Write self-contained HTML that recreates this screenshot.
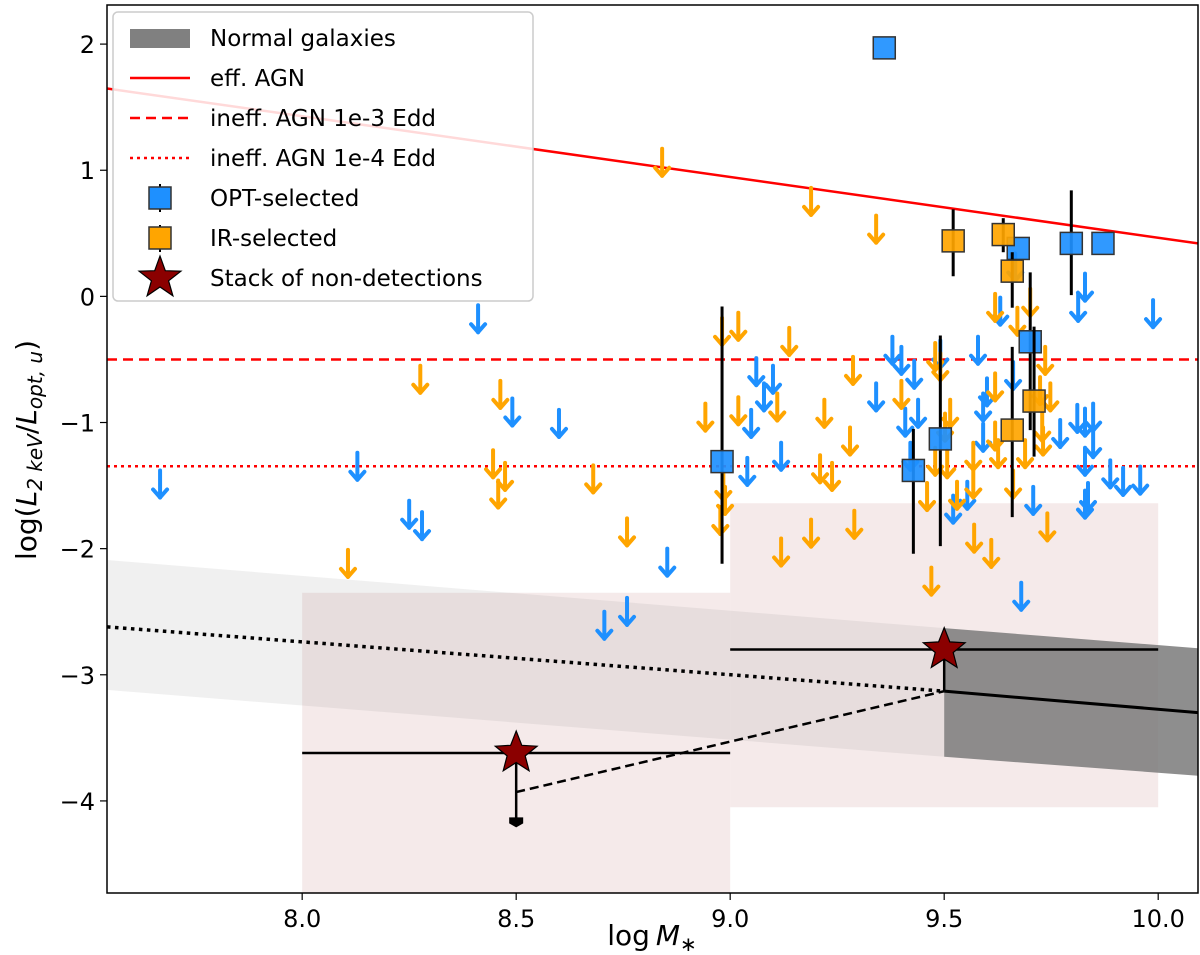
<!DOCTYPE html>
<html><head><meta charset="utf-8"><style>
body{margin:0;background:#fff;}
svg{display:block;font-family:"DejaVu Sans","Liberation Sans",sans-serif;}
</style></head><body>
<svg id="chart" width="1200" height="955" viewBox="0 0 1200 955"></svg>
<script>
// ---- data ----
const blueArrowX=[7.668,8.129,8.25,8.28,8.411,8.491,8.60,8.706,8.759,8.853,9.061,9.10,9.079,9.049,9.119,9.04,9.341,9.379,9.40,9.43,9.409,9.439,9.421,9.491,9.579,9.60,9.591,9.591,9.661,9.708,9.521,9.554,9.68,9.771,9.811,9.829,9.848,9.848,9.829,9.836,9.829,9.888,9.918,9.958,9.829,9.813,9.988,9.631,9.666];
const blueArrowY=[-1.38,-1.24,-1.62,-1.71,-0.07,-0.81,-0.90,-2.50,-2.39,-2.00,-0.49,-0.55,-0.69,-0.90,-1.16,-1.28,-0.69,-0.32,-0.40,-0.51,-0.89,-0.82,-1.16,-0.35,-0.32,-0.65,-0.77,-1.01,-0.52,-1.51,-1.58,-1.47,-2.27,-0.98,-0.86,-0.89,-0.85,-1.06,-1.20,-1.48,-1.54,-1.30,-1.36,-1.35,0.18,0.02,-0.03,-0.01,0.34];
const orangeArrowX=[8.107,8.276,8.463,8.446,8.474,8.458,8.68,8.759,8.841,9.189,9.341,8.981,9.019,9.138,9.287,8.942,9.019,9.11,9.22,9.28,9.40,9.479,9.491,9.619,9.671,9.701,9.736,9.724,9.748,9.619,9.619,9.626,9.689,9.729,9.731,9.514,9.502,9.507,9.479,9.568,9.568,9.661,9.46,9.53,9.21,9.238,9.29,9.189,9.119,9.57,9.61,9.741,9.47,8.984,8.988,8.977];
const orangeArrowY=[-2.01,-0.55,-0.67,-1.22,-1.32,-1.46,-1.34,-1.76,1.17,0.86,0.64,-0.17,-0.13,-0.25,-0.48,-0.85,-0.80,-0.77,-0.82,-1.04,-0.67,-0.37,-0.45,0.02,-0.09,0.06,-0.40,-0.64,-0.69,-0.61,-1.00,-1.14,-1.14,-0.93,-1.04,-0.82,-0.93,-1.22,-1.20,-1.16,-1.38,-1.38,-1.48,-1.47,-1.26,-1.32,-1.70,-1.77,-1.92,-1.81,-1.93,-1.72,-2.15,-1.40,-1.51,-1.67];
const blueSqX=[9.36,9.673,9.797,9.871,9.701,9.491,9.428,8.981];
const blueSqY=[1.97,0.38,0.42,0.42,-0.36,-1.13,-1.38,-1.31];
const blueSqErrUp=[0,0,0.42,0,0.55,0.82,0.33,1.23];
const blueSqErrDn=[0,0,0.41,0,0.70,0.85,0.66,0.81];
const orangeSqX=[9.521,9.638,9.659,9.71,9.659];
const orangeSqY=[0.44,0.49,0.20,-0.83,-1.06];
const orangeSqErrUp=[0.25,0.13,0.15,0.59,0.66];
const orangeSqErrDn=[0.28,0.14,0.29,0.44,0.69];
const stackX=[8.5,9.5];
const stackY=[-3.62,-2.80];
const stackXErr=[0.5,0.5];
const stackYLow=[-4.17,-3.13];
const xTicks=[8.0,8.5,9.0,9.5,10.0];
const xTickLabels=["8.0","8.5","9.0","9.5","10.0"];
const yTicks=[2,1,0,-1,-2,-3,-4];
const yTickLabels=["2","1","0","\u22121","\u22122","\u22123","\u22124"];
const effAGN=[[7.544,1.648],[10.093,0.42]];
const ineff3=-0.5, ineff4=-1.347;
const normDotted=[[7.544,-2.62],[9.5,-3.13]];
const normDashed=[[8.5,-3.93],[9.5,-3.13]];
const normSolid=[[9.5,-3.13],[10.093,-3.30]];
const bandLightTop=[[7.544,-2.09],[9.5,-2.63]];
const bandLightBot=[[7.544,-3.12],[9.5,-3.65]];
const bandDarkTop=[[9.5,-2.63],[10.093,-2.79]];
const bandDarkBot=[[9.5,-3.65],[10.093,-3.80]];
const pinkRects=[[8.0,9.0,-2.35,-4.73],[9.0,10.0,-1.64,-4.05]];

// ---- axes ----
const L=107,R=1198,T=5,B=893;
const X0=7.544,X1=10.093,Y0=-4.73,Y1=2.31;
const sx=v=>L+(v-X0)/(X1-X0)*(R-L);
const sy=v=>B-(v-Y0)/(Y1-Y0)*(B-T);
const svg=document.getElementById('chart');
const NS='http://www.w3.org/2000/svg';
function mk(tag,at,parent){const e=document.createElementNS(NS,tag);for(const k in at)e.setAttribute(k,at[k]);(parent||svg).appendChild(e);return e;}
const clip=mk('clipPath',{id:'pc'});mk('rect',{x:L,y:T,width:R-L,height:B-T},clip);
const g=mk('g',{'clip-path':'url(#pc)'});



pinkRects.forEach((r,i)=>{const e=mk('rect',{x:sx(r[0]),y:sy(r[2]),width:sx(r[1])-sx(r[0]),height:sy(r[3])-sy(r[2]),fill:'#ecd6d6','fill-opacity':0.5},g);

});
function band(top,bot,fill,op,name){const d=`M${sx(top[0][0])},${sy(top[0][1])}L${sx(top[1][0])},${sy(top[1][1])}L${sx(bot[1][0])},${sy(bot[1][1])}L${sx(bot[0][0])},${sy(bot[0][1])}Z`;
const e=mk('path',{d,fill,'fill-opacity':op},g);

}
band(bandLightTop,bandLightBot,'#808080',0.12,'normal-galaxies-band-extrapolated');
band(bandDarkTop,bandDarkBot,'#7a7a7a',0.85,'normal-galaxies-band');
function line(p,st,dash,w,name){const e=mk('line',{x1:sx(p[0][0]),y1:sy(p[0][1]),x2:sx(p[1][0]),y2:sy(p[1][1]),stroke:st,'stroke-width':w,'stroke-dasharray':dash||'none'},g);

}
line(effAGN,'#ff0000',null,2.5,'eff-agn-line');
line([[X0,ineff3],[X1,ineff3]],'#ff0000','10,6',2.5,'ineff-agn-1e-3-line');
line([[X0,ineff4],[X1,ineff4]],'#ff0000','3,4',2.5,'ineff-agn-1e-4-line');
line(normDotted,'#000','3.5,4.5',3.5,'normal-galaxies-dotted-line');
line(normDashed,'#000','9,5',2.5,'normal-galaxies-dashed-line');
line(normSolid,'#000',null,3,'normal-galaxies-solid-line');
function arrow(x,y,col,name){const px=sx(x),py=sy(y);const a=mk('g',{stroke:col,'stroke-width':4,fill:'none','stroke-linecap':'round','stroke-linejoin':'round'},g);


mk('line',{x1:px,y1:py,x2:px,y2:py+27},a);mk('polyline',{points:`${px-7},${py+19} ${px},${py+27} ${px+7},${py+19}`},a);}
blueArrowX.forEach((x,i)=>arrow(x,blueArrowY[i],'#1e90ff','opt-upper-limit'));
orangeArrowX.forEach((x,i)=>arrow(x,orangeArrowY[i],'#ffa500','ir-upper-limit'));
function sq(x,y,eu,ed,col,name){const px=sx(x),py=sy(y);const s=mk('g',{},g);


if(eu||ed)mk('line',{x1:px,y1:sy(y+eu),x2:px,y2:sy(y-ed),stroke:'#000','stroke-width':3},s);
mk('rect',{x:px-11,y:py-11,width:22,height:22,fill:col,'fill-opacity':0.92,stroke:'#333','stroke-width':1.5},s);}
blueSqX.forEach((x,i)=>sq(x,blueSqY[i],blueSqErrUp[i],blueSqErrDn[i],'#1e90ff','opt-selected-detection'));
orangeSqX.forEach((x,i)=>sq(x,orangeSqY[i],orangeSqErrUp[i],orangeSqErrDn[i],'#ffa500','ir-selected-detection'));
function starPts(cx,cy,ro,ri){let p=[];for(let k=0;k<10;k++){const r=k%2?ri:ro;const a=-Math.PI/2+k*Math.PI/5;p.push((cx+r*Math.cos(a)).toFixed(1)+','+(cy+r*Math.sin(a)).toFixed(1));}return p.join(' ');}
stackX.forEach((x,i)=>{const px=sx(x),py=sy(stackY[i]);const s=mk('g',{},g);


mk('line',{x1:sx(x-stackXErr[i]),y1:py,x2:sx(x+stackXErr[i]),y2:py,stroke:'#000','stroke-width':2.5},s);
mk('line',{x1:px,y1:py,x2:px,y2:sy(stackYLow[i]),stroke:'#000','stroke-width':2.5},s);
if(i===0)mk('path',{d:`M${px-7},${sy(stackYLow[i])-5}h14v6l-7,4l-7,-4z`,fill:'#000'},s);
mk('polygon',{points:starPts(px,py,22,9.5),fill:'#8b0000',stroke:'#000','stroke-width':1.2},s);});

const fr=mk('rect',{x:L,y:T,width:R-L,height:B-T,fill:'none',stroke:'#000','stroke-width':1.5});


xTicks.forEach((v,i)=>{mk('line',{x1:sx(v),y1:B,x2:sx(v),y2:B+7,stroke:'#000','stroke-width':1.2});
const t=mk('text',{x:sx(v),y:B+34,'text-anchor':'middle','font-size':24});t.textContent=xTickLabels[i];

});
yTicks.forEach((v,i)=>{mk('line',{x1:L-7,y1:sy(v),x2:L,y2:sy(v),stroke:'#000','stroke-width':1.2});
const t=mk('text',{x:L-12,y:sy(v)+9,'text-anchor':'end','font-size':24});t.textContent=yTickLabels[i];

});
</script>
<svg width="1200" height="955" style="position:absolute;left:0;top:0">
<text x="652" y="945" text-anchor="middle" font-size="28" font-family="DejaVu Sans, sans-serif">log<tspan font-style="italic" dx="6">M</tspan><tspan font-size="20" dy="6">∗</tspan></text>
<text transform="translate(36,450) rotate(-90)" text-anchor="middle" font-size="28" font-family="DejaVu Sans, sans-serif">log(<tspan font-style="italic">L</tspan><tspan font-size="20" dy="6" font-style="italic">2 keV</tspan><tspan dy="-6">/</tspan><tspan font-style="italic">L</tspan><tspan font-size="20" dy="6" font-style="italic">opt, u</tspan><tspan dy="-6">)</tspan></text>
<g font-family="DejaVu Sans, sans-serif" font-size="23">
<rect x="113" y="12" width="420" height="289" rx="5" fill="#fff" fill-opacity="0.85" stroke="#ccc" stroke-width="1.5"/>
<rect x="130" y="29" width="60" height="19" fill="#808080"/>
<text x="210" y="46">Normal galaxies</text>
<line x1="130" y1="78" x2="190" y2="78" stroke="#f00" stroke-width="2.5"/>
<text x="210" y="86">eff. AGN</text>
<line x1="130" y1="118" x2="190" y2="118" stroke="#f00" stroke-width="2.5" stroke-dasharray="10,6"/>
<text x="210" y="126">ineff. AGN 1e-3 Edd</text>
<line x1="130" y1="158" x2="190" y2="158" stroke="#f00" stroke-width="2.5" stroke-dasharray="3,4"/>
<text x="210" y="166">ineff. AGN 1e-4 Edd</text>
<line x1="160" y1="184" x2="160" y2="212" stroke="#000" stroke-width="2"/>
<rect x="149" y="187" width="22" height="22" fill="#1e90ff" stroke="#333" stroke-width="1.5"/>
<text x="210" y="206">OPT-selected</text>
<line x1="160" y1="225" x2="160" y2="252" stroke="#000" stroke-width="2"/>
<rect x="149" y="227" width="22" height="22" fill="#ffa500" stroke="#333" stroke-width="1.5"/>
<text x="210" y="246">IR-selected</text>
<polygon points="160,256 165.3,270.7 180.9,271.2 168.6,280.8 172.9,295.8 160,287 147.1,295.8 151.4,280.8 139.1,271.2 154.7,270.7" fill="#8b0000" stroke="#000" stroke-width="1.2"/>
<text x="210" y="286">Stack of non-detections</text>
</g>
</svg>
</body></html>
